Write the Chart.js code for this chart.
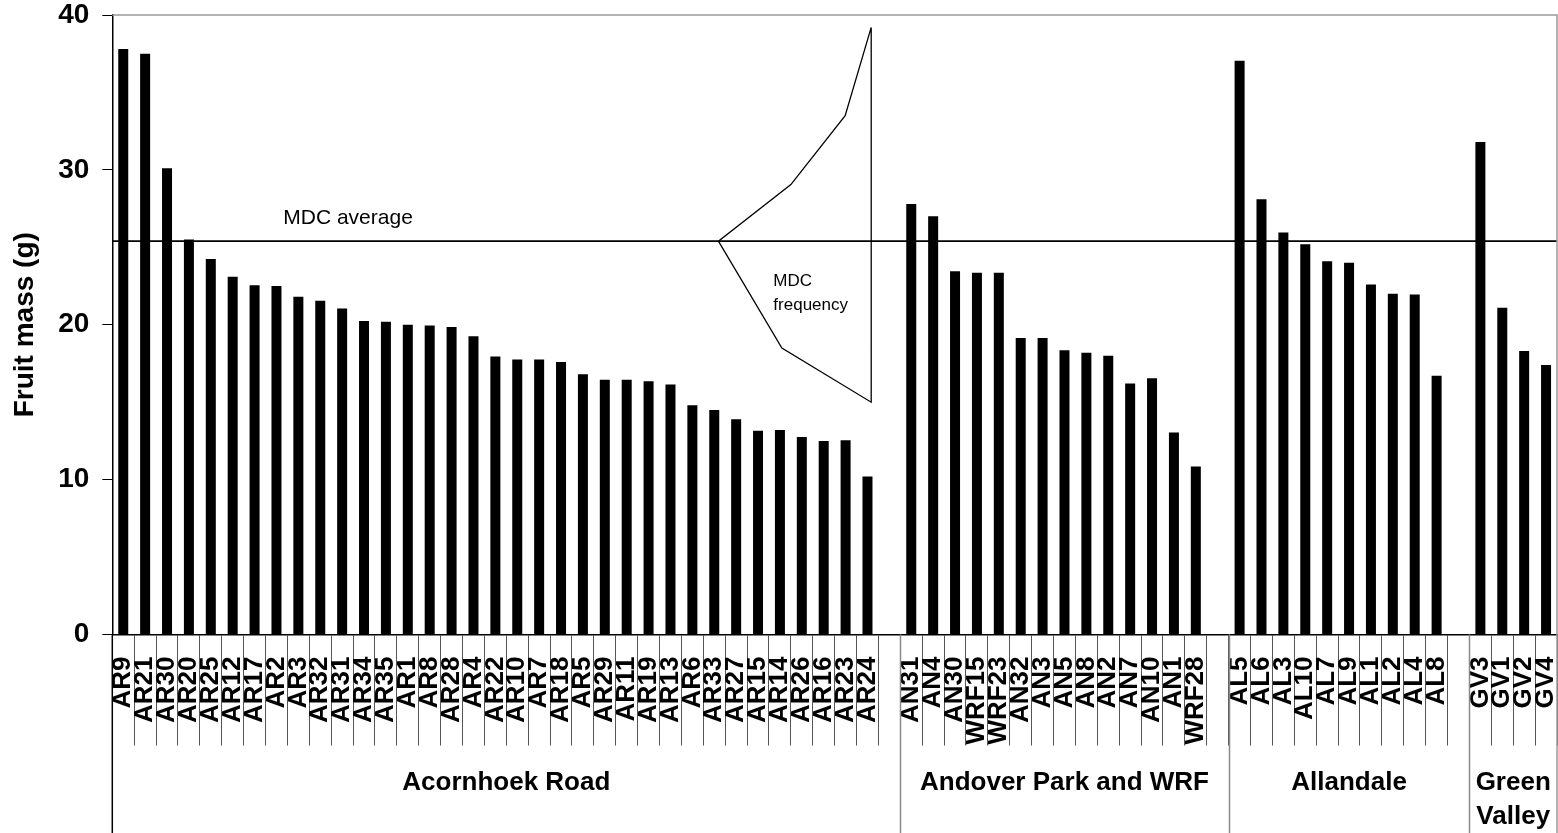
<!DOCTYPE html>
<html>
<head>
<meta charset="utf-8">
<script src="https://cdn.jsdelivr.net/npm/chart.js@4.4.1/dist/chart.umd.min.js"></script>
<style>
  html, body { margin: 0; padding: 0; background: #fff; }
  #wrap { width: 1558px; height: 833px; }
</style>
</head>
<body>
<div id="wrap"><canvas id="chart" width="1558" height="833"></canvas></div>
<script>
// Tree identifiers and mean fruit mass (g), grouped by locality
const acornhoekIds = ['AR9','AR21','AR30','AR20','AR25','AR12','AR17','AR2','AR3','AR32','AR31','AR34','AR35','AR1','AR8','AR28','AR4','AR22','AR10','AR7','AR18','AR5','AR29','AR11','AR19','AR13','AR6','AR33','AR27','AR15','AR14','AR26','AR16','AR23','AR24'];
const acornhoekMass = [37.8, 37.5, 30.1, 25.5, 24.25, 23.1, 22.55, 22.5, 21.8, 21.55, 21.05, 20.25, 20.2, 20.0, 19.95, 19.85, 19.25, 17.95, 17.75, 17.75, 17.6, 16.8, 16.45, 16.45, 16.35, 16.15, 14.8, 14.5, 13.9, 13.15, 13.2, 12.75, 12.5, 12.55, 10.2];

const andoverIds = ['AN31','AN4','AN30','WRF15','WRF23','AN32','AN3','AN5','AN8','AN2','AN7','AN10','AN1','WRF28'];
const andoverMass = [27.8, 27.0, 23.45, 23.35, 23.35, 19.15, 19.15, 18.35, 18.2, 18.0, 16.2, 16.55, 13.05, 10.85];

const allandaleIds = ['AL5','AL6','AL3','AL10','AL7','AL9','AL1','AL2','AL4','AL8'];
const allandaleMass = [37.05, 28.1, 25.95, 25.2, 24.1, 24.0, 22.6, 22.0, 21.95, 16.7];

const greenValleyIds = ['GV3','GV1','GV2','GV4'];
const greenValleyMass = [31.8, 21.1, 18.3, 17.4];

const groupNames = [['Acornhoek Road'], ['Andover Park and WRF'], ['Allandale'], ['Green', 'Valley']];

// MDC reference: average fruit mass and the sideways frequency polygon
// (x in category slots from the left edge, y in grams)
const mdcAverage = 25.4;
const mdcFreqX = [34.67, 33.48, 31.0, 27.69, 30.59, 34.67, 34.67];
const mdcFreqY = [39.2, 33.5, 29.05, 25.4, 18.5, 15.0, 39.2];

const yTicks = [0, 10, 20, 30, 40];

// Build the category axis: each locality followed by one empty slot
const groupIds = [acornhoekIds, andoverIds, allandaleIds, greenValleyIds];
const groupMass = [acornhoekMass, andoverMass, allandaleMass, greenValleyMass];
const labels = [];
const values = [];
const groupEdges = [0];
groupIds.forEach((ids, i) => {
  labels.push(...ids);
  values.push(...groupMass[i]);
  if (i < groupIds.length - 1) { labels.push(''); values.push(null); }
  groupEdges.push(labels.length);
});

const FONT = "'Liberation Sans', Arial, Helvetica, sans-serif";
Chart.defaults.font.family = FONT;
Chart.defaults.color = '#000';

// pixel of a slot boundary / fractional slot position on the category axis
function slotPx(xScale, s) { return xScale.getPixelForValue(s - 0.5); }

const framePlugin = {
  id: 'frame',
  afterDraw(chart) {
    const { ctx, chartArea: a, scales: { x, y } } = chart;
    const H = chart.height;
    ctx.save();
    // top and right frame
    ctx.strokeStyle = '#9a9a9a';
    ctx.lineWidth = 1.5;
    ctx.beginPath();
    ctx.moveTo(a.left, a.top);
    ctx.lineTo(a.right, a.top);
    ctx.lineTo(a.right, H);
    ctx.stroke();
    // locality separators below the axis
    ctx.strokeStyle = '#8a8a8a';
    groupEdges.slice(1, -1).forEach(e => {
      const px = Math.round(slotPx(x, e)) + 0.5;
      ctx.beginPath();
      ctx.moveTo(px, a.bottom);
      ctx.lineTo(px, H);
      ctx.stroke();
    });
    // left axis continues down through the label rows
    ctx.strokeStyle = '#000';
    ctx.beginPath();
    ctx.moveTo(a.left, a.bottom);
    ctx.lineTo(a.left, H);
    ctx.stroke();
    // locality names
    ctx.fillStyle = '#000';
    ctx.font = 'bold 26px ' + FONT;
    ctx.textAlign = 'center';
    ctx.textBaseline = 'middle';
    groupNames.forEach((name, i) => {
      const cx = (slotPx(x, groupEdges[i]) + slotPx(x, groupEdges[i + 1])) / 2;
      name.forEach((line, j) => ctx.fillText(line, cx, a.bottom + 148 + j * 34));
    });
    // reference notes
    ctx.font = '21px ' + FONT;
    ctx.fillText('MDC average', slotPx(x, 10.77), y.getPixelForValue(26.87));
    ctx.font = '17px ' + FONT;
    ctx.textAlign = 'left';
    ctx.textBaseline = 'alphabetic';
    ctx.fillText('MDC', slotPx(x, 30.2), y.getPixelForValue(22.5));
    ctx.fillText('frequency', slotPx(x, 30.2), y.getPixelForValue(20.98));
    ctx.restore();
  }
};

new Chart(document.getElementById('chart'), {
  type: 'bar',
  data: {
    labels: labels,
    datasets: [
      {
        type: 'scatter',
        label: 'MDC average',
        data: [{ x: 0, y: mdcAverage }, { x: labels.length, y: mdcAverage }],
        xAxisID: 'xl', yAxisID: 'y',
        showLine: true, borderColor: '#000', borderWidth: 1.6,
        pointRadius: 0, order: 0
      },
      {
        type: 'scatter',
        label: 'MDC frequency',
        data: mdcFreqX.map((v, i) => ({ x: v, y: mdcFreqY[i] })),
        xAxisID: 'xl', yAxisID: 'y',
        showLine: true, borderColor: '#000', borderWidth: 1.3,
        pointRadius: 0, order: 0
      },
      {
        type: 'bar',
        label: 'Fruit mass',
        data: values,
        backgroundColor: '#000',
        barPercentage: 0.457,
        categoryPercentage: 1,
        grouped: false,
        xAxisID: 'x', yAxisID: 'y',
        order: 1
      }
    ]
  },
  options: {
    responsive: false,
    animation: false,
    layout: { padding: { top: 15, right: 1, left: 0, bottom: 0 } },
    plugins: { legend: { display: false }, tooltip: { enabled: false } },
    scales: {
      x: {
        type: 'category',
        position: 'bottom',
        offset: true,
        grid: { offset: true, drawOnChartArea: false, drawTicks: true, tickLength: 111, color: '#555', lineWidth: 1 },
        border: { display: true, color: '#000', width: 1.5 },
        ticks: { autoSkip: false, maxRotation: 90, minRotation: 90, padding: -89, color: '#000',
                 font: { size: 26, weight: 'bold', lineHeight: 1 } },
        afterFit(s) { s.height = 198.5; }
      },
      xl: {
        type: 'linear', display: false, offset: false, bounds: 'data',
        grid: { offset: false }, min: 0, max: labels.length
      },
      y: {
        min: yTicks[0], max: yTicks[yTicks.length - 1],
        afterBuildTicks(s) { s.ticks = yTicks.map(v => ({ value: v })); },
        ticks: { padding: 13, color: '#000', font: { size: 28, weight: 'bold', lineHeight: 1 } },
        grid: { drawOnChartArea: false, drawTicks: true, tickLength: 10, color: '#000', lineWidth: 1 },
        border: { display: true, color: '#000', width: 1.5 },
        title: { display: true, text: 'Fruit mass (g)', color: '#000',
                 font: { size: 28, weight: 'bold' }, padding: { top: 8, bottom: 0 } },
        afterFit(s) { s.width = 112.3; s.paddingTop = 0; s.paddingBottom = 0; }
      }
    }
  },
  plugins: [framePlugin]
});
</script>
</body>
</html>
